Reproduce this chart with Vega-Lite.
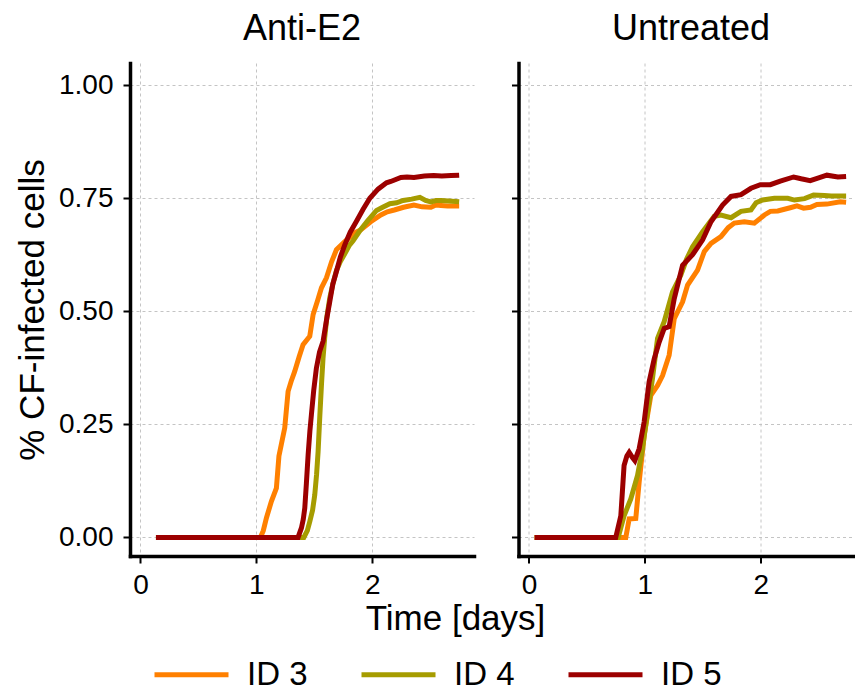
{
  "$schema": "https://vega.github.io/schema/vega-lite/v6.json",
  "background": "white",
  "padding": {"left": 15, "top": 11, "right": 0, "bottom": 0},
  "config": {
    "font": "Liberation Sans",
    "view": {"stroke": null},
    "axis": {
      "domainColor": "black", "domainWidth": 3.5, "domainCap": "square",
      "tickColor": "black", "tickWidth": 2, "tickSize": 7,
      "labelColor": "black", "labelFontSize": 28, "labelFont": "Liberation Sans",
      "titleFontSize": 35, "titleFontWeight": "normal", "titleColor": "black", "titleFont": "Liberation Sans",
      "gridColor": "#c4c4c4", "gridDash": [3, 3], "gridWidth": 1,
      "labelFlush": false
    },
    "title": {"fontSize": 36, "fontWeight": "normal", "color": "black", "font": "Liberation Sans"}
  },
  "data": {"values": [
    {"panel":"Anti-E2","id":"ID 3","t":0.134,"v":0},
    {"panel":"Anti-E2","id":"ID 3","t":0.6,"v":0},
    {"panel":"Anti-E2","id":"ID 3","t":1.035,"v":0},
    {"panel":"Anti-E2","id":"ID 3","t":1.06,"v":0.015},
    {"panel":"Anti-E2","id":"ID 3","t":1.087,"v":0.043},
    {"panel":"Anti-E2","id":"ID 3","t":1.13,"v":0.08},
    {"panel":"Anti-E2","id":"ID 3","t":1.173,"v":0.109},
    {"panel":"Anti-E2","id":"ID 3","t":1.195,"v":0.18},
    {"panel":"Anti-E2","id":"ID 3","t":1.215,"v":0.205},
    {"panel":"Anti-E2","id":"ID 3","t":1.245,"v":0.242},
    {"panel":"Anti-E2","id":"ID 3","t":1.274,"v":0.323},
    {"panel":"Anti-E2","id":"ID 3","t":1.3,"v":0.345},
    {"panel":"Anti-E2","id":"ID 3","t":1.331,"v":0.367},
    {"panel":"Anti-E2","id":"ID 3","t":1.37,"v":0.4},
    {"panel":"Anti-E2","id":"ID 3","t":1.403,"v":0.426},
    {"panel":"Anti-E2","id":"ID 3","t":1.461,"v":0.445},
    {"panel":"Anti-E2","id":"ID 3","t":1.49,"v":0.493},
    {"panel":"Anti-E2","id":"ID 3","t":1.53,"v":0.525},
    {"panel":"Anti-E2","id":"ID 3","t":1.562,"v":0.552},
    {"panel":"Anti-E2","id":"ID 3","t":1.605,"v":0.574},
    {"panel":"Anti-E2","id":"ID 3","t":1.65,"v":0.61},
    {"panel":"Anti-E2","id":"ID 3","t":1.691,"v":0.636},
    {"panel":"Anti-E2","id":"ID 3","t":1.763,"v":0.654},
    {"panel":"Anti-E2","id":"ID 3","t":1.814,"v":0.665},
    {"panel":"Anti-E2","id":"ID 3","t":1.86,"v":0.675},
    {"panel":"Anti-E2","id":"ID 3","t":1.9,"v":0.68},
    {"panel":"Anti-E2","id":"ID 3","t":1.987,"v":0.698},
    {"panel":"Anti-E2","id":"ID 3","t":2.074,"v":0.713},
    {"panel":"Anti-E2","id":"ID 3","t":2.13,"v":0.72},
    {"panel":"Anti-E2","id":"ID 3","t":2.19,"v":0.724},
    {"panel":"Anti-E2","id":"ID 3","t":2.27,"v":0.73},
    {"panel":"Anti-E2","id":"ID 3","t":2.36,"v":0.735},
    {"panel":"Anti-E2","id":"ID 3","t":2.43,"v":0.731},
    {"panel":"Anti-E2","id":"ID 3","t":2.506,"v":0.73},
    {"panel":"Anti-E2","id":"ID 3","t":2.55,"v":0.735},
    {"panel":"Anti-E2","id":"ID 3","t":2.593,"v":0.734},
    {"panel":"Anti-E2","id":"ID 3","t":2.65,"v":0.733},
    {"panel":"Anti-E2","id":"ID 3","t":2.75,"v":0.733},

    {"panel":"Anti-E2","id":"ID 4","t":0.134,"v":0},
    {"panel":"Anti-E2","id":"ID 4","t":0.8,"v":0},
    {"panel":"Anti-E2","id":"ID 4","t":1.41,"v":0},
    {"panel":"Anti-E2","id":"ID 4","t":1.44,"v":0.015},
    {"panel":"Anti-E2","id":"ID 4","t":1.461,"v":0.035},
    {"panel":"Anti-E2","id":"ID 4","t":1.485,"v":0.06},
    {"panel":"Anti-E2","id":"ID 4","t":1.504,"v":0.094},
    {"panel":"Anti-E2","id":"ID 4","t":1.52,"v":0.14},
    {"panel":"Anti-E2","id":"ID 4","t":1.533,"v":0.19},
    {"panel":"Anti-E2","id":"ID 4","t":1.548,"v":0.27},
    {"panel":"Anti-E2","id":"ID 4","t":1.562,"v":0.338},
    {"panel":"Anti-E2","id":"ID 4","t":1.575,"v":0.395},
    {"panel":"Anti-E2","id":"ID 4","t":1.59,"v":0.442},
    {"panel":"Anti-E2","id":"ID 4","t":1.61,"v":0.49},
    {"panel":"Anti-E2","id":"ID 4","t":1.634,"v":0.53},
    {"panel":"Anti-E2","id":"ID 4","t":1.66,"v":0.56},
    {"panel":"Anti-E2","id":"ID 4","t":1.691,"v":0.59},
    {"panel":"Anti-E2","id":"ID 4","t":1.725,"v":0.61},
    {"panel":"Anti-E2","id":"ID 4","t":1.763,"v":0.627},
    {"panel":"Anti-E2","id":"ID 4","t":1.8,"v":0.645},
    {"panel":"Anti-E2","id":"ID 4","t":1.835,"v":0.656},
    {"panel":"Anti-E2","id":"ID 4","t":1.893,"v":0.678},
    {"panel":"Anti-E2","id":"ID 4","t":1.96,"v":0.7},
    {"panel":"Anti-E2","id":"ID 4","t":2.037,"v":0.723},
    {"panel":"Anti-E2","id":"ID 4","t":2.09,"v":0.73},
    {"panel":"Anti-E2","id":"ID 4","t":2.152,"v":0.738},
    {"panel":"Anti-E2","id":"ID 4","t":2.21,"v":0.74},
    {"panel":"Anti-E2","id":"ID 4","t":2.267,"v":0.745},
    {"panel":"Anti-E2","id":"ID 4","t":2.34,"v":0.748},
    {"panel":"Anti-E2","id":"ID 4","t":2.411,"v":0.752},
    {"panel":"Anti-E2","id":"ID 4","t":2.46,"v":0.745},
    {"panel":"Anti-E2","id":"ID 4","t":2.506,"v":0.742},
    {"panel":"Anti-E2","id":"ID 4","t":2.55,"v":0.745},
    {"panel":"Anti-E2","id":"ID 4","t":2.593,"v":0.745},
    {"panel":"Anti-E2","id":"ID 4","t":2.66,"v":0.744},
    {"panel":"Anti-E2","id":"ID 4","t":2.75,"v":0.742},

    {"panel":"Anti-E2","id":"ID 5","t":0.134,"v":0},
    {"panel":"Anti-E2","id":"ID 5","t":0.8,"v":0},
    {"panel":"Anti-E2","id":"ID 5","t":1.36,"v":0},
    {"panel":"Anti-E2","id":"ID 5","t":1.389,"v":0.021},
    {"panel":"Anti-E2","id":"ID 5","t":1.405,"v":0.04},
    {"panel":"Anti-E2","id":"ID 5","t":1.418,"v":0.065},
    {"panel":"Anti-E2","id":"ID 5","t":1.432,"v":0.12},
    {"panel":"Anti-E2","id":"ID 5","t":1.447,"v":0.183},
    {"panel":"Anti-E2","id":"ID 5","t":1.462,"v":0.235},
    {"panel":"Anti-E2","id":"ID 5","t":1.475,"v":0.271},
    {"panel":"Anti-E2","id":"ID 5","t":1.495,"v":0.325},
    {"panel":"Anti-E2","id":"ID 5","t":1.518,"v":0.374},
    {"panel":"Anti-E2","id":"ID 5","t":1.545,"v":0.41},
    {"panel":"Anti-E2","id":"ID 5","t":1.576,"v":0.434},
    {"panel":"Anti-E2","id":"ID 5","t":1.605,"v":0.48},
    {"panel":"Anti-E2","id":"ID 5","t":1.634,"v":0.522},
    {"panel":"Anti-E2","id":"ID 5","t":1.66,"v":0.56},
    {"panel":"Anti-E2","id":"ID 5","t":1.691,"v":0.588},
    {"panel":"Anti-E2","id":"ID 5","t":1.725,"v":0.62},
    {"panel":"Anti-E2","id":"ID 5","t":1.763,"v":0.647},
    {"panel":"Anti-E2","id":"ID 5","t":1.81,"v":0.675},
    {"panel":"Anti-E2","id":"ID 5","t":1.864,"v":0.699},
    {"panel":"Anti-E2","id":"ID 5","t":1.92,"v":0.725},
    {"panel":"Anti-E2","id":"ID 5","t":1.979,"v":0.75},
    {"panel":"Anti-E2","id":"ID 5","t":2.05,"v":0.77},
    {"panel":"Anti-E2","id":"ID 5","t":2.123,"v":0.784},
    {"panel":"Anti-E2","id":"ID 5","t":2.16,"v":0.787},
    {"panel":"Anti-E2","id":"ID 5","t":2.247,"v":0.796},
    {"panel":"Anti-E2","id":"ID 5","t":2.3,"v":0.797},
    {"panel":"Anti-E2","id":"ID 5","t":2.36,"v":0.796},
    {"panel":"Anti-E2","id":"ID 5","t":2.45,"v":0.799},
    {"panel":"Anti-E2","id":"ID 5","t":2.53,"v":0.8},
    {"panel":"Anti-E2","id":"ID 5","t":2.6,"v":0.799},
    {"panel":"Anti-E2","id":"ID 5","t":2.68,"v":0.8},
    {"panel":"Anti-E2","id":"ID 5","t":2.75,"v":0.801},

    {"panel":"Untreated","id":"ID 3","t":0.049,"v":0},
    {"panel":"Untreated","id":"ID 3","t":0.5,"v":0},
    {"panel":"Untreated","id":"ID 3","t":0.836,"v":0},
    {"panel":"Untreated","id":"ID 3","t":0.865,"v":0.041},
    {"panel":"Untreated","id":"ID 3","t":0.922,"v":0.042},
    {"panel":"Untreated","id":"ID 3","t":0.951,"v":0.122},
    {"panel":"Untreated","id":"ID 3","t":0.994,"v":0.225},
    {"panel":"Untreated","id":"ID 3","t":1.052,"v":0.314},
    {"panel":"Untreated","id":"ID 3","t":1.11,"v":0.336},
    {"panel":"Untreated","id":"ID 3","t":1.153,"v":0.358},
    {"panel":"Untreated","id":"ID 3","t":1.21,"v":0.403},
    {"panel":"Untreated","id":"ID 3","t":1.254,"v":0.484},
    {"panel":"Untreated","id":"ID 3","t":1.326,"v":0.521},
    {"panel":"Untreated","id":"ID 3","t":1.369,"v":0.558},
    {"panel":"Untreated","id":"ID 3","t":1.455,"v":0.591},
    {"panel":"Untreated","id":"ID 3","t":1.513,"v":0.632},
    {"panel":"Untreated","id":"ID 3","t":1.571,"v":0.65},
    {"panel":"Untreated","id":"ID 3","t":1.657,"v":0.665},
    {"panel":"Untreated","id":"ID 3","t":1.72,"v":0.685},
    {"panel":"Untreated","id":"ID 3","t":1.772,"v":0.695},
    {"panel":"Untreated","id":"ID 3","t":1.859,"v":0.698},
    {"panel":"Untreated","id":"ID 3","t":1.945,"v":0.695},
    {"panel":"Untreated","id":"ID 3","t":2.032,"v":0.713},
    {"panel":"Untreated","id":"ID 3","t":2.083,"v":0.721},
    {"panel":"Untreated","id":"ID 3","t":2.147,"v":0.722},
    {"panel":"Untreated","id":"ID 3","t":2.255,"v":0.729},
    {"panel":"Untreated","id":"ID 3","t":2.313,"v":0.733},
    {"panel":"Untreated","id":"ID 3","t":2.37,"v":0.728},
    {"panel":"Untreated","id":"ID 3","t":2.43,"v":0.73},
    {"panel":"Untreated","id":"ID 3","t":2.485,"v":0.736},
    {"panel":"Untreated","id":"ID 3","t":2.571,"v":0.737},
    {"panel":"Untreated","id":"ID 3","t":2.686,"v":0.742},
    {"panel":"Untreated","id":"ID 3","t":2.737,"v":0.741},

    {"panel":"Untreated","id":"ID 4","t":0.049,"v":0},
    {"panel":"Untreated","id":"ID 4","t":0.5,"v":0},
    {"panel":"Untreated","id":"ID 4","t":0.77,"v":0},
    {"panel":"Untreated","id":"ID 4","t":0.821,"v":0.048},
    {"panel":"Untreated","id":"ID 4","t":0.879,"v":0.085},
    {"panel":"Untreated","id":"ID 4","t":0.937,"v":0.137},
    {"panel":"Untreated","id":"ID 4","t":0.98,"v":0.196},
    {"panel":"Untreated","id":"ID 4","t":1.023,"v":0.277},
    {"panel":"Untreated","id":"ID 4","t":1.066,"v":0.351},
    {"panel":"Untreated","id":"ID 4","t":1.11,"v":0.44},
    {"panel":"Untreated","id":"ID 4","t":1.167,"v":0.477},
    {"panel":"Untreated","id":"ID 4","t":1.239,"v":0.543},
    {"panel":"Untreated","id":"ID 4","t":1.311,"v":0.58},
    {"panel":"Untreated","id":"ID 4","t":1.36,"v":0.615},
    {"panel":"Untreated","id":"ID 4","t":1.412,"v":0.643},
    {"panel":"Untreated","id":"ID 4","t":1.499,"v":0.676},
    {"panel":"Untreated","id":"ID 4","t":1.599,"v":0.71},
    {"panel":"Untreated","id":"ID 4","t":1.657,"v":0.713},
    {"panel":"Untreated","id":"ID 4","t":1.744,"v":0.707},
    {"panel":"Untreated","id":"ID 4","t":1.83,"v":0.721},
    {"panel":"Untreated","id":"ID 4","t":1.916,"v":0.724},
    {"panel":"Untreated","id":"ID 4","t":1.96,"v":0.74},
    {"panel":"Untreated","id":"ID 4","t":2.017,"v":0.746},
    {"panel":"Untreated","id":"ID 4","t":2.118,"v":0.75},
    {"panel":"Untreated","id":"ID 4","t":2.233,"v":0.75},
    {"panel":"Untreated","id":"ID 4","t":2.291,"v":0.746},
    {"panel":"Untreated","id":"ID 4","t":2.378,"v":0.749},
    {"panel":"Untreated","id":"ID 4","t":2.456,"v":0.757},
    {"panel":"Untreated","id":"ID 4","t":2.55,"v":0.756},
    {"panel":"Untreated","id":"ID 4","t":2.608,"v":0.755},
    {"panel":"Untreated","id":"ID 4","t":2.737,"v":0.755},

    {"panel":"Untreated","id":"ID 5","t":0.049,"v":0},
    {"panel":"Untreated","id":"ID 5","t":0.5,"v":0},
    {"panel":"Untreated","id":"ID 5","t":0.749,"v":0},
    {"panel":"Untreated","id":"ID 5","t":0.793,"v":0.048},
    {"panel":"Untreated","id":"ID 5","t":0.821,"v":0.159},
    {"panel":"Untreated","id":"ID 5","t":0.845,"v":0.18},
    {"panel":"Untreated","id":"ID 5","t":0.865,"v":0.188},
    {"panel":"Untreated","id":"ID 5","t":0.89,"v":0.178},
    {"panel":"Untreated","id":"ID 5","t":0.914,"v":0.17},
    {"panel":"Untreated","id":"ID 5","t":0.951,"v":0.196},
    {"panel":"Untreated","id":"ID 5","t":0.994,"v":0.255},
    {"panel":"Untreated","id":"ID 5","t":1.037,"v":0.344},
    {"panel":"Untreated","id":"ID 5","t":1.081,"v":0.395},
    {"panel":"Untreated","id":"ID 5","t":1.124,"v":0.432},
    {"panel":"Untreated","id":"ID 5","t":1.167,"v":0.462},
    {"panel":"Untreated","id":"ID 5","t":1.21,"v":0.466},
    {"panel":"Untreated","id":"ID 5","t":1.254,"v":0.528},
    {"panel":"Untreated","id":"ID 5","t":1.326,"v":0.602},
    {"panel":"Untreated","id":"ID 5","t":1.412,"v":0.625},
    {"panel":"Untreated","id":"ID 5","t":1.499,"v":0.658},
    {"panel":"Untreated","id":"ID 5","t":1.571,"v":0.698},
    {"panel":"Untreated","id":"ID 5","t":1.671,"v":0.735},
    {"panel":"Untreated","id":"ID 5","t":1.744,"v":0.754},
    {"panel":"Untreated","id":"ID 5","t":1.83,"v":0.758},
    {"panel":"Untreated","id":"ID 5","t":1.916,"v":0.772},
    {"panel":"Untreated","id":"ID 5","t":1.997,"v":0.78},
    {"panel":"Untreated","id":"ID 5","t":2.083,"v":0.78},
    {"panel":"Untreated","id":"ID 5","t":2.169,"v":0.788},
    {"panel":"Untreated","id":"ID 5","t":2.284,"v":0.797},
    {"panel":"Untreated","id":"ID 5","t":2.349,"v":0.793},
    {"panel":"Untreated","id":"ID 5","t":2.427,"v":0.789},
    {"panel":"Untreated","id":"ID 5","t":2.5,"v":0.795},
    {"panel":"Untreated","id":"ID 5","t":2.571,"v":0.801},
    {"panel":"Untreated","id":"ID 5","t":2.666,"v":0.797},
    {"panel":"Untreated","id":"ID 5","t":2.737,"v":0.798}
  ]},
  "spacing": 44.5,
  "bounds": "flush",
  "resolve": {"scale": {"x": "independent", "y": "shared", "color": "shared"}},
  "hconcat": [
    {
      "width": 344,
      "height": 493,
      "title": {"text": "Anti-E2", "offset": -13, "baseline": "alphabetic"},
      "transform": [{"filter": "datum.panel === 'Anti-E2'"}],
      "mark": {"type": "line", "strokeWidth": 5},
      "encoding": {
        "x": {"field": "t", "type": "quantitative",
              "scale": {"domain": [-0.09, 2.878], "nice": false, "zero": false},
              "axis": {"values": [0, 1, 2], "title": "Time [days]", "titleX": 325, "labelPadding": 8.5, "titlePadding": 2}},
        "y": {"field": "v", "type": "quantitative",
              "scale": {"domain": [-0.041, 1.049], "nice": false, "zero": false},
              "axis": {"values": [0, 0.25, 0.5, 0.75, 1], "format": ".2f", "title": "% CF-infected cells", "labelPadding": 10, "titlePadding": 8}},
        "color": {"field": "id", "type": "nominal",
                  "scale": {"domain": ["ID 3", "ID 4", "ID 5"], "range": ["#FF8000", "#A69C00", "#9C0000"]},
                  "legend": {"title": null, "orient": "none", "legendX": 22, "legendY": 572, "direction": "horizontal",
                             "symbolType": "stroke", "symbolSize": 5476, "symbolStrokeWidth": 5,
                             "labelFontSize": 33, "labelColor": "black", "labelOffset": 16, "columnPadding": 43}}
      }
    },
    {
      "width": 337,
      "height": 493,
      "title": {"text": "Untreated", "offset": -13, "baseline": "alphabetic", "dx": 4},
      "transform": [{"filter": "datum.panel === 'Untreated'"}],
      "mark": {"type": "line", "strokeWidth": 5},
      "encoding": {
        "x": {"field": "t", "type": "quantitative",
              "scale": {"domain": [-0.09, 2.818], "nice": false, "zero": false},
              "axis": {"values": [0, 1, 2], "title": null, "labelPadding": 8.5}},
        "y": {"field": "v", "type": "quantitative",
              "scale": {"domain": [-0.041, 1.049], "nice": false, "zero": false},
              "axis": {"values": [0, 0.25, 0.5, 0.75, 1], "labels": false, "title": null}},
        "color": {"field": "id", "type": "nominal"}
      }
    }
  ]
}
